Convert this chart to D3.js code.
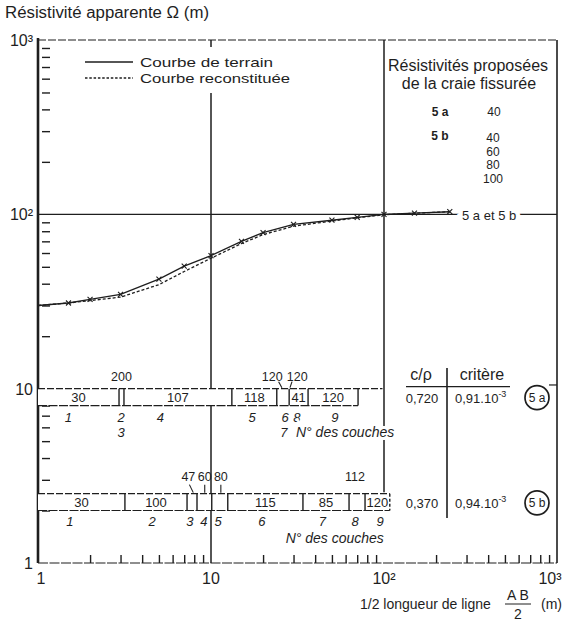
<!DOCTYPE html>
<html>
<head>
<meta charset="utf-8">
<script src="https://cdn.jsdelivr.net/npm/d3@7"></script>
<style>
  body { margin: 0; background: #fff; }
  svg { font-family: "Liberation Sans", Arial, sans-serif; fill: #1e1e1e; }
  .ln { stroke: #1e1e1e; fill: none; }
</style>
</head>
<body>
<svg id="chart" width="568" height="624"></svg>
<script>
// field curve and reconstituted curve (AB/2 in m, apparent resistivity)
var abField  = [1, 1.5, 2, 3, 5, 7, 10, 15, 20, 30, 50, 70, 100, 150, 240];
var rhoField = [30, 31, 32.5, 34.7, 42.5, 50.5, 58, 70, 78.5, 87.5, 92.5, 96, 100, 101.5, 103.5];
var abModel  = [1, 1.5, 2, 3, 5, 7, 10, 15, 20, 30, 50, 70, 100, 150, 240];
var rhoModel = [30, 31, 32, 33.5, 39.5, 47, 56, 68, 76.5, 85.5, 91.5, 95.5, 99.5, 101.5, 103.5];

// model 5a : layer limits, resistivities, layer numbers
var row1Range  = [8, 10];
var row1Bounds = [1, 2.94, 3.14, 13.2, 24.0, 28.3, 36.4, 70.8];
var row1Inside = ["30", "", "107", "118", "", "41", "120"];
var row1Above  = ["200", "120", "120"];
var row1AboveX = [3.04, 22.6, 31.5];
var row1Lead   = [[null, null], [24.6, 25.7], [29.4, 28.6]];
var row1Num    = ["1", "2", "3", "4", "5", "6", "7", "8", "9"];
var row1NumX   = [1.5, 3.02, 3.02, 5.1, 17.3, 26.8, 26.4, 31.4, 52];
var row1NumRow = [0, 0, 1, 0, 0, 0, 1, 0, 0];

// model 5b
var row2Range  = [2, 2.5];
var row2Bounds = [1, 3.18, 7.27, 8.3, 10.1, 12.5, 34.0, 62.8, 77.7, 108];
var row2Inside = ["30", "100", "", "", "", "115", "85", "", "120"];
var row2Above  = ["47", "60", "80", "112"];
var row2AboveX = [7.4, 9.2, 11.4, 68];
var row2Lead   = [[7.5, 7.9], [9.2, 9.2], [11.4, 11.4], [null, null]];
var row2Num    = ["1", "2", "3", "4", "5", "6", "7", "8", "9"];
var row2NumX   = [1.53, 4.56, 7.56, 9.1, 11.0, 19.7, 44, 68, 95];

// proposed resistivities of the fissured chalk
var propNames  = ["5 a", "5 b"];
var prop5a     = ["40"];
var prop5b     = ["40", "60", "80", "100"];

// table
var tableHead  = ["c/\u03c1", "crit\u00e8re"];
var tableRatio = ["0,720", "0,370"];
var tableCrit  = ["0,91.10", "0,94.10"];
var tableExp   = ["-3", "-3"];
var tableName  = ["5 a", "5 b"];

var decades = [1, 10, 100];
var minorTicks = [];
decades.forEach(function(d) {
  for (var k = 2; k <= 9; k++) minorTicks.push(d * k);
});

var pL = 38, pR = 557, pT = 40, pB = 563;
var x = d3.scaleLog().domain([1, 1000]).range([pL, pR]);
var y = d3.scaleLog().domain([1, 1000]).range([pB, pT]);

var svg = d3.select("#chart");

// grid lines
svg.append("line").attr("class", "ln").attr("stroke-width", 1.3)
  .attr("x1", pL).attr("x2", pR).attr("y1", y(100)).attr("y2", y(100));
svg.append("line").attr("class", "ln").attr("stroke-width", 1.5)
  .attr("x1", x(10)).attr("x2", x(10)).attr("y1", pT).attr("y2", pB);
svg.append("line").attr("class", "ln").attr("stroke-width", 1.5)
  .attr("x1", x(100)).attr("x2", x(100)).attr("y1", pT).attr("y2", y(2.55));
svg.append("line").attr("class", "ln").attr("stroke-width", 1.2)
  .attr("stroke-dasharray", "7,2")
  .attr("x1", pL).attr("x2", x(98)).attr("y1", y(10)).attr("y2", y(10));

// frame
svg.append("line").attr("class", "ln").attr("stroke-width", 1.2).attr("stroke-dasharray", "8,2")
  .attr("x1", pL).attr("x2", pR).attr("y1", pT).attr("y2", pT);
svg.append("line").attr("class", "ln").attr("stroke-width", 1.6)
  .attr("x1", pR).attr("x2", pR).attr("y1", pT).attr("y2", pB);
svg.append("line").attr("class", "ln").attr("stroke-width", 1.2).attr("stroke-dasharray", "10,1.5")
  .attr("x1", pL).attr("x2", pR).attr("y1", pB).attr("y2", pB);

// minor ticks
svg.append("g").attr("transform", "translate(" + (pL + 4) + ",0)")
  .call(d3.axisRight(y).tickValues(minorTicks).tickSize(8).tickFormat(""))
  .call(function(g) { g.select(".domain").remove(); })
  .selectAll("line").attr("stroke", "#1e1e1e").attr("stroke-width", 1.4);
svg.append("g").attr("transform", "translate(0," + pB + ")")
  .call(d3.axisTop(x).tickValues(minorTicks).tickSize(8).tickFormat(""))
  .call(function(g) { g.select(".domain").remove(); })
  .selectAll("line").attr("stroke", "#1e1e1e").attr("stroke-width", 1.4);

// left axis
svg.append("line").attr("class", "ln").attr("stroke-width", 2.6)
  .attr("x1", pL).attr("x2", pL).attr("y1", pT - 2).attr("y2", pB);

// tick labels
var yLabels = ["1", "10", "10\u00b2", "10\u00b3"];
var xLabels = ["1", "10", "10\u00b2", "10\u00b3"];
var majors = [1, 10, 100, 1000];
svg.selectAll(".ylab").data(majors).enter().append("text")
  .attr("x", pL - 5).attr("y", function(d) { return y(d) + 6; })
  .attr("text-anchor", "end").attr("font-size", 16)
  .text(function(d, i) { return yLabels[i]; });
svg.selectAll(".xlab").data(majors).enter().append("text")
  .attr("x", function(d, i) { return x(d) + (i === 0 ? 3 : i === 3 ? -7 : 0); })
  .attr("y", pB + 21)
  .attr("text-anchor", "middle").attr("font-size", 16)
  .text(function(d, i) { return xLabels[i]; });

// titles
svg.append("text").attr("x", 5).attr("y", 18).attr("font-size", 16)
  .attr("textLength", 204).attr("lengthAdjust", "spacingAndGlyphs")
  .text("R\u00e9sistivit\u00e9 apparente \u03a9 (m)");
var xt = svg.append("g").attr("font-size", 14);
xt.append("text").attr("x", 360).attr("y", 609).text("1/2 longueur de ligne");
xt.append("text").attr("x", 518).attr("y", 600).attr("text-anchor", "middle").text("A B");
xt.append("line").attr("class", "ln").attr("x1", 505).attr("x2", 531).attr("y1", 604).attr("y2", 604);
xt.append("text").attr("x", 518).attr("y", 619).attr("text-anchor", "middle").text("2");
xt.append("text").attr("x", 541).attr("y", 609).text("(m)");

// legend
svg.append("rect").attr("x", 136).attr("y", 47).attr("width", 160).attr("height", 46).attr("fill", "#fff");
svg.append("line").attr("class", "ln").attr("stroke-width", 1.3)
  .attr("x1", 85).attr("x2", 133).attr("y1", 62).attr("y2", 62);
svg.append("line").attr("class", "ln").attr("stroke-width", 1.3).attr("stroke-dasharray", "2.5,1.8")
  .attr("x1", 85).attr("x2", 133).attr("y1", 78).attr("y2", 78);
svg.append("text").attr("x", 140).attr("y", 67).attr("font-size", 13.5)
  .attr("textLength", 133).attr("lengthAdjust", "spacingAndGlyphs").text("Courbe de terrain");
svg.append("text").attr("x", 140).attr("y", 83).attr("font-size", 13.5)
  .attr("textLength", 150).attr("lengthAdjust", "spacingAndGlyphs").text("Courbe reconstitu\u00e9e");

// proposed resistivities block
svg.append("text").attr("x", 468).attr("y", 71).attr("font-size", 16).attr("text-anchor", "middle")
  .text("R\u00e9sistivit\u00e9s propos\u00e9es");
svg.append("text").attr("x", 469).attr("y", 89).attr("font-size", 16).attr("text-anchor", "middle")
  .text("de la craie fissur\u00e9e");
svg.selectAll(".pname").data(propNames).enter().append("text")
  .attr("x", 440).attr("y", function(d, i) { return 116 + i * 24; })
  .attr("font-size", 12).attr("font-weight", "bold").attr("text-anchor", "middle")
  .text(function(d) { return d; });
svg.selectAll(".p5a").data(prop5a).enter().append("text")
  .attr("x", 494).attr("y", 116).attr("font-size", 12).attr("text-anchor", "middle")
  .text(function(d) { return d; });
svg.selectAll(".p5b").data(prop5b).enter().append("text")
  .attr("x", 493).attr("y", function(d, i) { return 142 + i * 13.5; })
  .attr("font-size", 12).attr("text-anchor", "middle")
  .text(function(d) { return d; });

svg.append("text").attr("x", 462).attr("y", 220).attr("font-size", 13)
  .attr("paint-order", "stroke").attr("stroke", "#fff").attr("stroke-width", 9)
  .text("5 a et 5 b");

// curves
var lineGen = d3.line().x(function(d) { return x(d[0]); }).y(function(d) { return y(d[1]); });
var field = d3.zip(abField, rhoField);
var model = d3.zip(abModel, rhoModel);
svg.append("path").datum(model).attr("class", "ln").attr("stroke-width", 1.3)
  .attr("stroke-dasharray", "3,2").attr("d", lineGen);
svg.append("path").datum(field).attr("class", "ln").attr("stroke-width", 1.3)
  .attr("d", lineGen);
svg.selectAll(".mk").data(field.slice(1)).enter().append("path")
  .attr("class", "ln").attr("stroke-width", 1.1)
  .attr("d", function(d) {
    var px = x(d[0]), py = y(d[1]);
    return "M" + (px - 2.5) + "," + (py - 2.5) + "L" + (px + 2.5) + "," + (py + 2.5) +
           "M" + (px - 2.5) + "," + (py + 2.5) + "L" + (px + 2.5) + "," + (py - 2.5);
  });

// layer rows
function drawRow(bounds, range, inside, dashLast) {
  var g = svg.append("g");
  var yt = y(range[1]), yb = y(range[0]);
  g.append("rect").attr("x", x(bounds[0])).attr("y", yt)
    .attr("width", x(bounds[bounds.length - 1]) - x(bounds[0])).attr("height", yb - yt)
    .attr("fill", "#fff");
  g.append("line").attr("class", "ln").attr("stroke-width", 1.2).attr("stroke-dasharray", "7,2")
    .attr("x1", x(bounds[0])).attr("x2", x(bounds[bounds.length - 1])).attr("y1", yt).attr("y2", yt);
  g.append("line").attr("class", "ln").attr("stroke-width", 1.2).attr("stroke-dasharray", "9,1.5")
    .attr("x1", x(bounds[0])).attr("x2", x(bounds[bounds.length - 1])).attr("y1", yb).attr("y2", yb);
  g.selectAll(".b").data(bounds.slice(1)).enter().append("line")
    .attr("class", "ln").attr("stroke-width", 1.4)
    .attr("stroke-dasharray", function(d, i) { return i === bounds.length - 2 && dashLast ? "3,2" : null; })
    .attr("x1", function(d) { return x(d); }).attr("x2", function(d) { return x(d); })
    .attr("y1", yt).attr("y2", yb);
  g.selectAll(".c").data(inside).enter().append("text")
    .attr("x", function(d, i) { return (x(bounds[i]) + x(bounds[i + 1])) / 2; })
    .attr("y", (yt + yb) / 2 + 4.5).attr("font-size", 13).attr("text-anchor", "middle")
    .text(function(d) { return d; });
  return g;
}

function drawAbove(labels, xs, leads, yText, yA, yB) {
  svg.selectAll(null).data(labels).enter().append("text")
    .attr("x", function(d, i) { return x(xs[i]); }).attr("y", yText)
    .attr("font-size", 12.5).attr("text-anchor", "middle")
    .text(function(d) { return d; });
  svg.selectAll(null).data(leads.filter(function(l) { return l[0] !== null; })).enter().append("line")
    .attr("class", "ln").attr("stroke-width", 1.1)
    .attr("x1", function(d) { return x(d[0]); }).attr("x2", function(d) { return x(d[1]); })
    .attr("y1", yA).attr("y2", yB);
}

function drawNums(nums, xs, rows, yBase) {
  svg.selectAll(null).data(nums).enter().append("text")
    .attr("x", function(d, i) { return x(xs[i]); })
    .attr("y", function(d, i) { return yBase + (rows ? rows[i] * 15 : 0); })
    .attr("font-size", 13).attr("font-style", "italic").attr("text-anchor", "middle")
    .text(function(d) { return d; });
}

drawRow(row1Bounds, row1Range, row1Inside, false);
drawAbove(row1Above, row1AboveX, row1Lead, y(10) - 8, y(10) - 7, y(10) - 1);
drawNums(row1Num, row1NumX, row1NumRow, y(8) + 16);
svg.append("text").attr("x", x(31)).attr("y", y(8) + 31).attr("font-size", 14).attr("font-style", "italic")
  .attr("paint-order", "stroke").attr("stroke", "#fff").attr("stroke-width", 6)
  .text("N\u00b0 des couches");

drawRow(row2Bounds, row2Range, row2Inside, true);
drawAbove(row2Above, row2AboveX, row2Lead, y(2.5) - 13, y(2.5) - 9, y(2.5) - 1);
drawNums(row2Num, row2NumX, null, y(2) + 15);
svg.append("text").attr("x", x(27)).attr("y", y(2) + 32).attr("font-size", 14).attr("font-style", "italic")
  .text("N\u00b0 des couches");

// table c/rho - critere
svg.append("line").attr("class", "ln").attr("stroke-width", 1.6)
  .attr("x1", 447).attr("x2", 447).attr("y1", 368).attr("y2", 518);
svg.append("line").attr("class", "ln").attr("stroke-width", 1.2)
  .attr("x1", 406).attr("x2", 510).attr("y1", y(10) - 2).attr("y2", y(10) - 2);
svg.append("line").attr("class", "ln").attr("stroke-width", 1.2)
  .attr("x1", 549).attr("x2", pR).attr("y1", y(10.5)).attr("y2", y(10.5));
svg.selectAll(".th").data(tableHead).enter().append("text")
  .attr("x", function(d, i) { return i === 0 ? 421 : 482; }).attr("y", 380)
  .attr("font-size", 16).attr("text-anchor", "middle")
  .text(function(d) { return d; });
var rowY = [y(9) + 6, y(2.24) + 6];
svg.selectAll(".tr").data(tableRatio).enter().append("text")
  .attr("x", 422).attr("y", function(d, i) { return rowY[i]; })
  .attr("font-size", 13).attr("text-anchor", "middle")
  .text(function(d) { return d; });
var crit = svg.selectAll(".tc").data(tableCrit).enter().append("text")
  .attr("x", 455).attr("y", function(d, i) { return rowY[i]; })
  .attr("font-size", 13);
crit.append("tspan").text(function(d) { return d; });
crit.append("tspan").attr("dy", -6).attr("font-size", 9).text(function(d, i) { return tableExp[i]; });
svg.selectAll(".tcirc").data(tableName).enter().append("circle")
  .attr("cx", 537).attr("cy", function(d, i) { return rowY[i] - 5; }).attr("r", 12)
  .attr("fill", "#fff").attr("stroke", "#1e1e1e").attr("stroke-width", 1.7);
svg.selectAll(".tname").data(tableName).enter().append("text")
  .attr("x", 537).attr("y", function(d, i) { return rowY[i] - 1; })
  .attr("font-size", 12).attr("text-anchor", "middle")
  .text(function(d) { return d; });
</script>
</body>
</html>
